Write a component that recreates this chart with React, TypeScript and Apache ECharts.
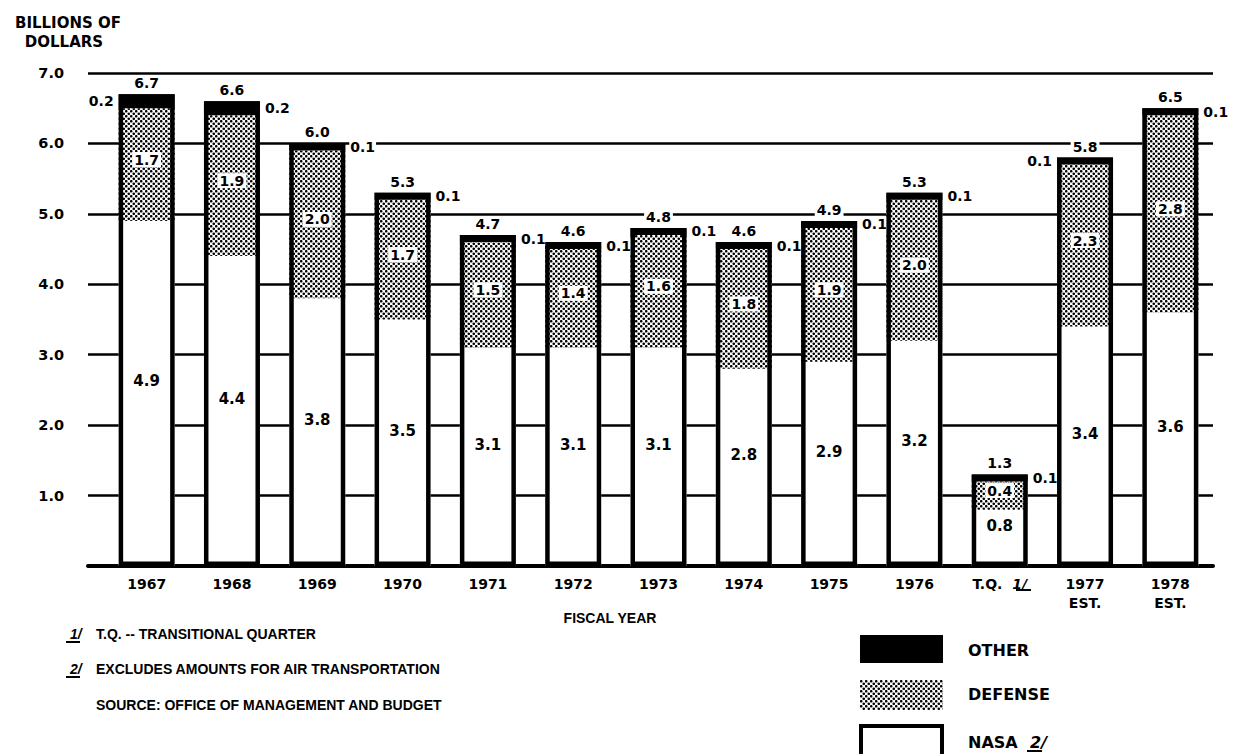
import React, { useEffect, useRef } from 'react';
import * as echarts from 'echarts';

const categories = ['1967', '1968', '1969', '1970', '1971', '1972', '1973', '1974', '1975', '1976', 'T.Q.', '1977\nEST.', '1978\nEST.'];
const nasa = [4.9, 4.4, 3.8, 3.5, 3.1, 3.1, 3.1, 2.8, 2.9, 3.2, 0.8, 3.4, 3.6];
const defense = [1.7, 1.9, 2.0, 1.7, 1.5, 1.4, 1.6, 1.8, 1.9, 2.0, 0.4, 2.3, 2.8];
const other = [0.2, 0.2, 0.1, 0.1, 0.1, 0.1, 0.1, 0.1, 0.1, 0.1, 0.1, 0.1, 0.1];
const totals = [6.7, 6.6, 6.0, 5.3, 4.7, 4.6, 4.8, 4.6, 4.9, 5.3, 1.3, 5.8, 6.5];
const otherLabelSide = ['left', 'right', 'right', 'right', 'right', 'right', 'right', 'right', 'right', 'right', 'right', 'left', 'right'];
const yMin = 0;
const yMax = 7;
const yStep = 1;

const FONT = '"Liberation Sans", Arial, sans-serif';
const WIDE = '"DejaVu Sans", "Liberation Sans", sans-serif';

function makeDots(): HTMLCanvasElement {
  const c = document.createElement('canvas');
  c.width = 5;
  c.height = 5;
  const ctx = c.getContext('2d')!;
  ctx.fillStyle = '#ffffff';
  ctx.fillRect(0, 0, 5, 5);
  ctx.fillStyle = '#000000';
  [[1.25, 1.25], [3.75, 3.75]].forEach(([x, y]) => {
    ctx.beginPath();
    ctx.arc(x, y, 1.3, 0, Math.PI * 2);
    ctx.fill();
  });
  return c;
}

export default function App() {
  const ref = useRef<HTMLDivElement>(null);
  useEffect(() => {
    if (!ref.current) return;
    const chart = echarts.init(ref.current, undefined, { renderer: 'svg' });
    const dots = { image: makeDots(), repeat: 'repeat' } as any;
    const drawnDefense = totals.map((t, i) => Math.round((t - nasa[i] - other[i]) * 100) / 100);
    const barWidth = 56;
    const valueLabel = {
      fontFamily: WIDE,
      fontWeight: 'bold' as const,
      fontSize: 14,
      color: '#000',
    };
    const option: any = {
      animation: false,
      backgroundColor: '#fff',
      grid: [
        { left: 104, right: 22, top: 73, bottom: 188 },
        { left: 88, right: 22, top: 73, bottom: 188 },
      ],
      xAxis: [
        {
          type: 'category',
          gridIndex: 0,
          data: categories,
          axisLine: { show: false },
          axisTick: { show: false },
          axisLabel: {
            interval: 0,
            margin: 8,
            lineHeight: 19,
            fontFamily: WIDE,
            fontWeight: 'bold',
            fontSize: 14,
            color: '#000',
            formatter: (v: string) => (v === 'T.Q.' ? 'T.Q.  {fn|1/}' : v),
            rich: {
              fn: { fontFamily: WIDE, fontWeight: 'bold', fontStyle: 'italic', fontSize: 14, color: '#000' },
            },
          },
        },
        {
          type: 'value',
          gridIndex: 1,
          min: 0,
          max: 1,
          axisLine: { show: true, onZero: true, lineStyle: { color: '#000', width: 4 } },
          axisTick: { show: false },
          axisLabel: { show: false },
          splitLine: { show: false },
        },
      ],
      yAxis: [
        { type: 'value', gridIndex: 0, min: yMin, max: yMax, interval: yStep, show: false },
        {
          type: 'value',
          gridIndex: 1,
          min: yMin,
          max: yMax,
          interval: yStep,
          axisLine: { show: false },
          axisTick: { show: false },
          splitLine: { show: true, lineStyle: { color: '#000', width: 2.5 } },
          axisLabel: {
            margin: 24,
            fontFamily: WIDE,
            fontWeight: 'bold',
            fontSize: 14.5,
            color: '#000',
            formatter: (v: number) => (v === 0 ? '' : v.toFixed(1)),
          },
        },
      ],
      series: [
        {
          name: 'NASA',
          type: 'bar',
          stack: 'a',
          xAxisIndex: 0,
          yAxisIndex: 0,
          barWidth,
          barGap: '-100%',
          data: nasa,
          itemStyle: { color: '#fff' },
          label: {
            show: true,
            position: 'inside',
            offset: [0, -12],
            ...valueLabel,
            fontSize: 15,
            formatter: (p: any) => nasa[p.dataIndex].toFixed(1),
          },
        },
        {
          name: 'DEFENSE',
          type: 'bar',
          stack: 'a',
          xAxisIndex: 0,
          yAxisIndex: 0,
          barWidth,
          barGap: '-100%',
          data: drawnDefense,
          itemStyle: { color: dots },
          label: {
            show: true,
            position: 'inside',
            offset: [0, -5],
            ...valueLabel,
            backgroundColor: '#fff',
            padding: [1, 2, 0, 2],
            formatter: (p: any) => defense[p.dataIndex].toFixed(1),
          },
        },
        {
          name: 'OTHER',
          type: 'bar',
          stack: 'a',
          xAxisIndex: 0,
          yAxisIndex: 0,
          barWidth,
          barGap: '-100%',
          data: other.map((v, i) => ({
            value: v,
            label: { position: otherLabelSide[i], distance: 4 },
          })),
          itemStyle: { color: '#000' },
          label: {
            show: true,
            ...valueLabel,
            backgroundColor: '#fff',
            padding: [1, 1, 0, 1],
            formatter: (p: any) => other[p.dataIndex].toFixed(1),
          },
        },
        {
          name: 'TOTAL',
          type: 'bar',
          xAxisIndex: 0,
          yAxisIndex: 0,
          barWidth,
          barGap: '-100%',
          data: totals,
          z: 3,
          itemStyle: { color: 'rgba(0,0,0,0)', borderColor: '#000', borderWidth: 4.5 },
          label: {
            show: true,
            position: 'top',
            distance: 4,
            ...valueLabel,
            backgroundColor: '#fff',
            padding: [1, 2, 0, 2],
            formatter: (p: any) => totals[p.dataIndex].toFixed(1),
          },
        },
      ],
      graphic: [
        { type: 'text', x: 68, y: 23, style: { text: 'BILLIONS OF', font: `bold 15px ${WIDE}`, fill: '#000', textAlign: 'center', textVerticalAlign: 'middle' } },
        { type: 'text', x: 64, y: 42, style: { text: 'DOLLARS', font: `bold 15px ${WIDE}`, fill: '#000', textAlign: 'center', textVerticalAlign: 'middle' } },
        { type: 'text', x: 610, y: 618, style: { text: 'FISCAL YEAR', font: `bold 14px ${FONT}`, fill: '#000', textAlign: 'center', textVerticalAlign: 'middle' } },
        // T.Q. footnote mark underline on axis
        { type: 'line', shape: { x1: 1016, y1: 590, x2: 1031, y2: 590 }, style: { stroke: '#000', lineWidth: 2 } },
        // footnotes
        { type: 'text', x: 70, y: 634, style: { text: '1/', font: `italic bold 14px ${FONT}`, fill: '#000', textVerticalAlign: 'middle' } },
        { type: 'line', shape: { x1: 66, y1: 642, x2: 80, y2: 642 }, style: { stroke: '#000', lineWidth: 2 } },
        { type: 'text', x: 96, y: 634, style: { text: 'T.Q. -- TRANSITIONAL QUARTER', font: `bold 14px ${FONT}`, fill: '#000', textVerticalAlign: 'middle' } },
        { type: 'text', x: 70, y: 669, style: { text: '2/', font: `italic bold 14px ${FONT}`, fill: '#000', textVerticalAlign: 'middle' } },
        { type: 'line', shape: { x1: 66, y1: 677, x2: 80, y2: 677 }, style: { stroke: '#000', lineWidth: 2 } },
        { type: 'text', x: 96, y: 669, style: { text: 'EXCLUDES AMOUNTS FOR AIR TRANSPORTATION', font: `bold 14px ${FONT}`, fill: '#000', textVerticalAlign: 'middle' } },
        { type: 'text', x: 96, y: 705, style: { text: 'SOURCE: OFFICE OF MANAGEMENT AND BUDGET', font: `bold 14px ${FONT}`, fill: '#000', textVerticalAlign: 'middle' } },
        // legend
        { type: 'rect', shape: { x: 860, y: 635, width: 83, height: 28 }, style: { fill: '#000' } },
        { type: 'text', x: 968, y: 650, style: { text: 'OTHER', font: `bold 16px ${WIDE}`, fill: '#000', textVerticalAlign: 'middle' } },
        { type: 'rect', shape: { x: 860, y: 680, width: 83, height: 30 }, style: { fill: dots } },
        { type: 'text', x: 968, y: 694, style: { text: 'DEFENSE', font: `bold 16px ${WIDE}`, fill: '#000', textVerticalAlign: 'middle' } },
        { type: 'rect', shape: { x: 861, y: 726, width: 81, height: 40 }, style: { fill: '#fff', stroke: '#000', lineWidth: 4 } },
        { type: 'text', x: 968, y: 742, style: { text: 'NASA', font: `bold 16px ${WIDE}`, fill: '#000', textVerticalAlign: 'middle' } },
        { type: 'text', x: 1030, y: 742, style: { text: '2/', font: `italic bold 16px ${WIDE}`, fill: '#000', textVerticalAlign: 'middle' } },
        { type: 'line', shape: { x1: 1027, y1: 751, x2: 1042, y2: 751 }, style: { stroke: '#000', lineWidth: 2 } },
      ],
    };
    chart.setOption(option);
    return () => chart.dispose();
  }, []);
  return <div ref={ref} style={{ width: 1235, height: 754, position: 'absolute', left: 0, top: 0 }} />;
}
